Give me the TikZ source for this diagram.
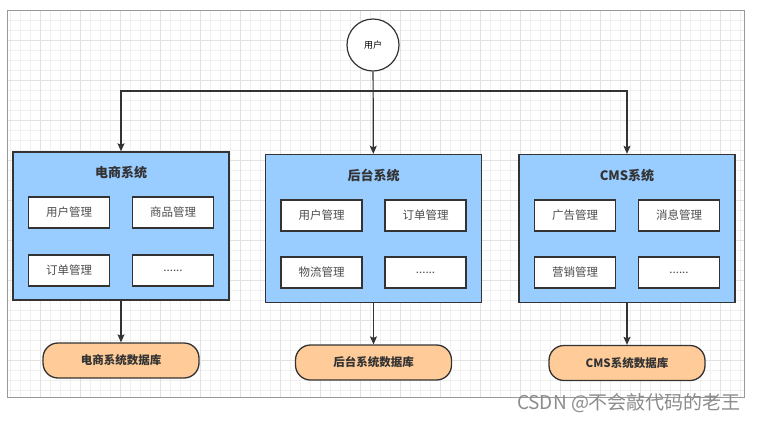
\documentclass[tikz,border=0pt]{standalone}
\usepackage{fontspec}
\setmainfont{Noto Sans CJK SC}
\usetikzlibrary{arrows.meta}

\definecolor{sysblue}{HTML}{99CCFF}
\definecolor{dborange}{HTML}{FFCC99}
\definecolor{edgegray}{HTML}{333333}
\definecolor{gridminor}{HTML}{F0F0F0}
\definecolor{gridmajor}{HTML}{E2E2E2}

\tikzset{
  sysbox/.style={draw=edgegray, fill=sysblue, line width=1.4pt,
    minimum width=216pt, minimum height=148pt, inner sep=0pt},
  systitle/.style={font=\bfseries\fontsize{13}{15}\selectfont, text=edgegray},
  modbox/.style={draw=edgegray, fill=white, line width=1.1pt, inner sep=0pt,
    minimum width=81pt, minimum height=31pt,
    font=\fontsize{11.5}{13}\selectfont, text=black!70},
  dbbox/.style={draw=edgegray, fill=dborange, line width=1.3pt,
    rounded corners=15pt, minimum width=156pt, minimum height=35pt,
    font=\bfseries\fontsize{11.5}{13}\selectfont, text=edgegray},
}

\begin{document}
\begin{tikzpicture}[x=1pt, y=-1pt, >={Stealth[length=8pt,width=7pt,inset=1.5pt]},
    line width=1.2pt]
    \useasboundingbox[fill=white] (0,0) rectangle (760,421);

    % background grid and frame
    \draw[gridminor, line width=0.5pt, step=10pt] (7,10) grid (744,397);
    \draw[gridmajor, line width=0.5pt, step=40pt] (7,10) grid (744,397);
    \draw[black!40, line width=1pt] (7,10) rectangle (744,397);

    \node (user) at (373,45) [draw=edgegray, fill=white, circle, line width=1.2pt,
        minimum size=52pt, inner sep=0pt, font=\fontsize{9}{10}\selectfont] {用户};
    \coordinate (split) at (373,91);

    % systems
    \node (sys1) at (121,226) [sysbox] {};
    \node (sys2) at (373.5,228.5) [sysbox] {};
    \node (sys3) at (627,228.5) [sysbox] {};

    \node (t1) at (121,173) [systitle] {电商系统};
    \node (t2) at (373.5,175.5) [systitle] {后台系统};
    \node (t3) at (627,175.5) [systitle] {CMS系统};

    \node (m11) at (69,212.5) [modbox] {用户管理};
    \node (m12) at (173,212.5) [modbox] {商品管理};
    \node (m13) at (69,270.5) [modbox] {订单管理};
    \node (m14) at (173,270.5) [modbox] {......};

    \node (m21) at (321.5,215.5) [modbox] {用户管理};
    \node (m22) at (425.5,215.5) [modbox] {订单管理};
    \node (m23) at (321.5,272.5) [modbox] {物流管理};
    \node (m24) at (425.5,272.5) [modbox] {......};

    \node (m31) at (575,215.5) [modbox] {广告管理};
    \node (m32) at (679,215.5) [modbox] {消息管理};
    \node (m33) at (575,272.5) [modbox] {营销管理};
    \node (m34) at (679,272.5) [modbox] {......};

    % databases
    \node (db1) at (121,360.5) [dbbox] {电商系统数据库};
    \node (db2) at (373.5,362.5) [dbbox] {后台系统数据库};
    \node (db3) at (627,363) [dbbox] {CMS系统数据库};

    \draw[->, edgegray] (user) -- (sys2);
    \draw[->, edgegray] (split) -| (sys1.north);
    \draw[->, edgegray] (split) -| (sys3.north);

    \draw[->, edgegray] (sys1) -- (db1);
    \draw[->, edgegray] (sys2) -- (db2);
    \draw[->, edgegray] (sys3) -- (db3);

    \node (mark) at (629,403) [text=black!45, font=\fontsize{19}{20}\selectfont]
        {CSDN @不会敲代码的老王};
\end{tikzpicture}
\end{document}
